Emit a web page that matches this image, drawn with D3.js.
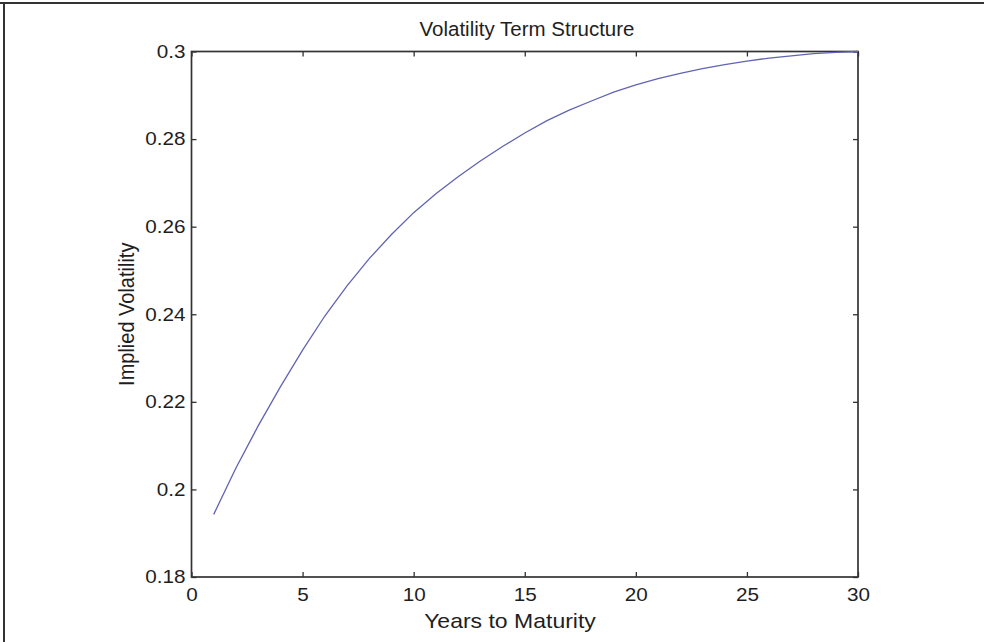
<!DOCTYPE html>
<html><head><meta charset="utf-8">
<script src="https://cdn.jsdelivr.net/npm/d3@7"></script>
<style>body{margin:0;background:#fff}svg{display:block}text{font-family:"Liberation Sans",Arial,sans-serif;fill:#1e1e1e}</style>
</head><body>
<svg id="c" width="984" height="642"></svg>
<script>
const title = "Volatility Term Structure";
const xLabel = "Years to Maturity";
const yLabel = "Implied Volatility";
const years = [1,2,3,4,5,6,7,8,9,10,11,12,13,14,15,16,17,18,19,20,21,22,23,24,25,26,27,28,29,30];
const vols = [0.1943,0.2049,0.2145,0.2234,0.2318,0.2396,0.2465,0.2527,0.2582,0.2632,0.2675,0.2714,0.2750,0.2783,0.2814,0.2842,0.2866,0.2887,0.2907,0.2924,0.2938,0.2950,0.2961,0.2970,0.2978,0.2985,0.2990,0.2995,0.2998,0.3000];
const xTicks = [0,5,10,15,20,25,30];
const yTicks = [0.18,0.2,0.22,0.24,0.26,0.28,0.3];

const svg = d3.select("#c");
const L = 191.5, R = 858, T = 51.5, B = 577;
const x = d3.scaleLinear().domain([0,30]).range([L,R]);
const y = d3.scaleLinear().domain([0.18,0.3]).range([B,T]);
const SX = 1.15;

function stretch(sel, sx) {
  sel.each(function(){
    const t = d3.select(this);
    const ax = +t.attr("x") || 0, ay = +t.attr("y") || 0;
    t.attr("transform", `translate(${ax},${ay}) scale(${sx},1) translate(${-ax},${-ay})`);
  });
}

// figure frame (top & left)
svg.append("line").attr("x1",0).attr("x2",984).attr("y1",3).attr("y2",3).attr("stroke","#333").attr("stroke-width",2);
svg.append("line").attr("x1",4).attr("x2",4).attr("y1",2).attr("y2",642).attr("stroke","#333").attr("stroke-width",2);

const fmtY = d => String(+d.toFixed(2));
const ax = (g) => g.call(s => s.select(".domain").remove()).call(s => s.selectAll("line").attr("stroke","#333").attr("stroke-width",1.3));

const gx = svg.append("g").attr("transform",`translate(0,${B})`)
  .call(d3.axisBottom(x).tickValues(xTicks).tickSizeInner(-5).tickSizeOuter(0).tickPadding(11).tickFormat(d3.format("d")))
  .call(ax);
gx.selectAll("text").attr("font-size",18).attr("fill","#1e1e1e").call(stretch, SX);
svg.append("g").attr("transform",`translate(0,${T})`)
  .call(d3.axisTop(x).tickValues(xTicks).tickSizeInner(-5).tickSizeOuter(0).tickFormat(""))
  .call(ax);
const gy = svg.append("g").attr("transform",`translate(${L},0)`)
  .call(d3.axisLeft(y).tickValues(yTicks).tickSizeInner(-5).tickSizeOuter(0).tickPadding(6).tickFormat(fmtY))
  .call(ax);
gy.selectAll("text").attr("font-size",18).attr("fill","#1e1e1e").call(stretch, SX);
svg.append("g").attr("transform",`translate(${R},0)`)
  .call(d3.axisRight(y).tickValues(yTicks).tickSizeInner(-5).tickSizeOuter(0).tickFormat(""))
  .call(ax);

svg.append("rect").attr("x",L).attr("y",T).attr("width",R-L).attr("height",B-T)
  .attr("fill","none").attr("stroke","#333").attr("stroke-width",1.7);

svg.append("path").datum(years.map((d,i)=>[d,vols[i]]))
  .attr("d", d3.line().x(d=>x(d[0])).y(d=>y(d[1])))
  .attr("fill","none").attr("stroke","#6164b2").attr("stroke-width",1.3);

svg.append("text").attr("x",527).attr("y",36).attr("text-anchor","middle").attr("font-size",20.5).text(title);
svg.append("text").attr("x",510).attr("y",628).attr("text-anchor","middle").attr("font-size",20).text(xLabel).call(stretch, SX);
svg.append("text").attr("transform",`translate(134,${(T+B)/2}) rotate(-90) scale(1,1.1)`).attr("text-anchor","middle").attr("font-size",20).text(yLabel);
</script>
</body></html>
